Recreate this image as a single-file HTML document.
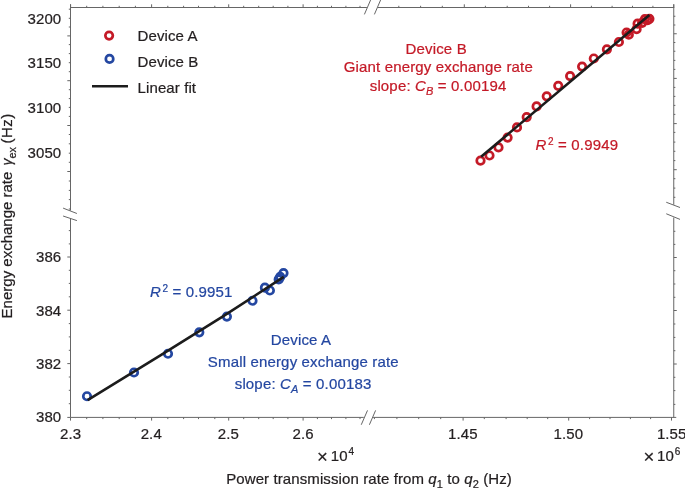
<!DOCTYPE html>
<html><head><meta charset="utf-8"><title>chart</title>
<style>
html,body{margin:0;padding:0;background:#fff;}
body{width:685px;height:488px;overflow:hidden;font-family:"Liberation Sans",sans-serif;}
svg{display:block;will-change:transform;transform:translateZ(0);}
</style></head><body>
<svg width="685" height="488" viewBox="0 0 685 488">
<rect width="685" height="488" fill="#ffffff"/>
<g stroke="#666666" stroke-width="1" fill="none" stroke-linecap="butt">
<path d="M70.5 7.5H366.9M377.5 7.5H674.25"/>
<path d="M70.5 417.4H363.75M373.1 417.4H676.25"/>
<path d="M70.5 4.3V210.6M70.5 218.5V417.4"/>
<path d="M673.75 4.3V204.75M673.75 217.5V417.4"/>
<path d="M364.4 14.4L370.6 0M374.4 14.4L380.6 0"/>
<path d="M361.25 424.75L367.5 410.4M369.4 424.75L375.6 410.4"/>
<path d="M63.1 208.1L76.9 213.5M63.1 216L76.9 220.6"/>
<path d="M666.25 202.25L680 207.5M666.25 213.75L680 219.4"/>
<path d="M70.5 417.4v3.2M151.6 417.4v3.2M228.7 417.4v3.2M303.1 417.4v3.2M463.1 417.4v3.2M568.7 417.4v3.2M671.5 417.4v3.2M86.7 417.4v1.7M102.9 417.4v1.7M119.2 417.4v1.7M135.4 417.4v1.7M167.8 417.4v1.7M183.6 417.4v1.7M198.5 417.4v1.7M214.8 417.4v1.7M243.7 417.4v1.7M258.7 417.4v1.7M273.2 417.4v1.7M287.9 417.4v1.7M317.4 417.4v1.7M331.5 417.4v1.7M345.9 417.4v1.7M360 417.4v1.7M374.4 417.4v1.7M396.9 417.4v1.7M418.7 417.4v1.7M440.7 417.4v1.7M484.3 417.4v1.7M506.1 417.4v1.7M527.2 417.4v1.7M547.7 417.4v1.7M589.6 417.4v1.7M610 417.4v1.7M630.4 417.4v1.7M650.6 417.4v1.7"/>
<path d="M70.6 7.5v-3.2M673.75 7.5v-3.2M151.6 7.5v-3.2M228.7 7.5v-3.2M303.1 7.5v-3.2M464.3 7.5v-3.2M570.6 7.5v-3.2M86.7 7.5v-1.7M102.9 7.5v-1.7M119.2 7.5v-1.7M135.4 7.5v-1.7M167.8 7.5v-1.7M183.6 7.5v-1.7M198.5 7.5v-1.7M214.8 7.5v-1.7M243.7 7.5v-1.7M258.7 7.5v-1.7M273.2 7.5v-1.7M287.9 7.5v-1.7M317.4 7.5v-1.7M331.5 7.5v-1.7M345.9 7.5v-1.7M360 7.5v-1.7M398.8 7.5v-1.7M420.6 7.5v-1.7M442.3 7.5v-1.7M485.4 7.5v-1.7M507.2 7.5v-1.7M528.5 7.5v-1.7M549.6 7.5v-1.7M591.4 7.5v-1.7M612.1 7.5v-1.7M632.5 7.5v-1.7M652.9 7.5v-1.7"/>
<path d="M70.5 35.9h-3.2M70.5 80.7h-3.2M70.5 125.5h-3.2M70.5 171.5h-3.2M70.5 257.0h-3.2M70.5 310.2h-3.2M70.5 363.6h-3.2M70.5 417.4h-3.2M70.5 9.2h-1.7M70.5 18.3h-1.7M70.5 27.0h-1.7M70.5 44.6h-1.7M70.5 53.6h-1.7M70.5 62.7h-1.7M70.5 71.7h-1.7M70.5 89.7h-1.7M70.5 98.6h-1.7M70.5 107.4h-1.7M70.5 116.4h-1.7M70.5 134.5h-1.7M70.5 143.8h-1.7M70.5 153.2h-1.7M70.5 162.3h-1.7M70.5 181h-1.7M70.5 190.4h-1.7M70.5 199.6h-1.7M70.5 209.0h-1.7M70.5 230.6h-1.7M70.5 243.9h-1.7M70.5 270.3h-1.7M70.5 283.4h-1.7M70.5 296.8h-1.7M70.5 323.6h-1.7M70.5 336.9h-1.7M70.5 350.3h-1.7M70.5 377h-1.7M70.5 390.3h-1.7M70.5 403.7h-1.7"/>
<path d="M673.75 33.75h3M673.75 78.4h3M673.75 123.6h3M673.75 169.7h3M673.75 257.5h3M673.75 310.5h3M673.75 364.0h3M673.75 16.25h1.6M673.75 25h1.6M673.75 42.5h1.6M673.75 51.25h1.6M673.75 60.4h1.6M673.75 69.4h1.6M673.75 87.4h1.6M673.75 96.4h1.6M673.75 105.4h1.6M673.75 114.4h1.6M673.75 132.4h1.6M673.75 142.1h1.6M673.75 151.3h1.6M673.75 160.6h1.6M673.75 178.7h1.6M673.75 188.1h1.6M673.75 197.3h1.6M673.75 231.3h1.6M673.75 244.4h1.6M673.75 270.7h1.6M673.75 284.0h1.6M673.75 297.3h1.6M673.75 324.0h1.6M673.75 337.4h1.6M673.75 350.7h1.6M673.75 377.3h1.6M673.75 390.6h1.6M673.75 404.4h1.6"/>
</g>
<g fill="none" stroke-width="2.7" stroke="#2447a1">
<circle cx="87" cy="396.25" r="3.75"/>
<circle cx="134" cy="372.5" r="3.75"/>
<circle cx="168" cy="353.75" r="3.75"/>
<circle cx="199.3" cy="332.3" r="3.75"/>
<circle cx="226.9" cy="316.6" r="3.75"/>
<circle cx="252.5" cy="300.75" r="3.75"/>
<circle cx="264.9" cy="287.7" r="3.75"/>
<circle cx="269.9" cy="290.5" r="3.75"/>
<circle cx="278.7" cy="279.4" r="3.75"/>
<circle cx="280.2" cy="276.8" r="3.75"/>
<circle cx="283.5" cy="273.1" r="3.75"/>
<circle cx="109.55" cy="58.95" r="3.75"/>
</g>
<g fill="none" stroke-width="2.7" stroke="#c41a27">
<circle cx="480.5" cy="160.7" r="3.75"/>
<circle cx="489.5" cy="155.5" r="3.75"/>
<circle cx="498.5" cy="147.4" r="3.75"/>
<circle cx="507.6" cy="137.6" r="3.75"/>
<circle cx="517" cy="127.4" r="3.75"/>
<circle cx="526.7" cy="117.1" r="3.75"/>
<circle cx="536.6" cy="106.4" r="3.75"/>
<circle cx="546.75" cy="96.3" r="3.75"/>
<circle cx="558.25" cy="85.8" r="3.75"/>
<circle cx="570.1" cy="76.1" r="3.75"/>
<circle cx="582.1" cy="66.6" r="3.75"/>
<circle cx="593.8" cy="58.5" r="3.75"/>
<circle cx="606.9" cy="49.3" r="3.75"/>
<circle cx="618.9" cy="42" r="3.75"/>
<circle cx="626.6" cy="32.5" r="3.75"/>
<circle cx="628.8" cy="34.7" r="3.75"/>
<circle cx="636.6" cy="29.2" r="3.75"/>
<circle cx="637.6" cy="23.7" r="3.75"/>
<circle cx="642.1" cy="22.8" r="3.75"/>
<circle cx="644.9" cy="19.2" r="3.75"/>
<circle cx="647.6" cy="20.1" r="3.75"/>
<circle cx="649.4" cy="18.8" r="3.75"/>
<circle cx="109.1" cy="35.6" r="3.75"/>
</g>
<g stroke="#1c1c1c" stroke-width="2.6" stroke-linecap="butt" fill="none">
<path d="M87.6 400.1L160 355.7L223.75 315.9L283.75 276.9" stroke-linejoin="round"/>
<path d="M481.1 156.8L649.4 15"/>
<path d="M92 86.25H128"/>
</g>
<g font-family="Liberation Sans, sans-serif" font-size="15" letter-spacing="0.1" fill="#231f20" stroke="#231f20" stroke-width="0.22">
<text x="61.3" y="23.8" text-anchor="end">3200</text>
<text x="61.3" y="68.2" text-anchor="end">3150</text>
<text x="61.3" y="112.9" text-anchor="end">3100</text>
<text x="61.3" y="158.0" text-anchor="end">3050</text>
<text x="61.3" y="262.4" text-anchor="end">386</text>
<text x="61.3" y="315.6" text-anchor="end">384</text>
<text x="61.3" y="369.0" text-anchor="end">382</text>
<text x="61.3" y="422.3" text-anchor="end">380</text>
<text x="70.6" y="438.5" text-anchor="middle">2.3</text>
<text x="151.25" y="438.5" text-anchor="middle">2.4</text>
<text x="228.3" y="438.5" text-anchor="middle">2.5</text>
<text x="303.1" y="438.5" text-anchor="middle">2.6</text>
<text x="462.9" y="438.5" text-anchor="middle">1.45</text>
<text x="568.4" y="438.5" text-anchor="middle">1.50</text>
<text x="671.7" y="438.5" text-anchor="middle">1.55</text>
<text x="322.5" y="462.6" font-size="18.5" text-anchor="middle">×</text><text x="330.7" y="461.0">10<tspan font-size="10" dy="-5.6" dx="0.8">4</tspan></text>
<text x="648.9" y="462.6" font-size="18.5" text-anchor="middle">×</text><text x="657.1" y="461.0">10<tspan font-size="10" dy="-5.6" dx="0.8">6</tspan></text>
<text x="226.2" y="483.7">Power transmission rate from <tspan font-style="italic">q</tspan><tspan font-size="11" dy="4.2">1</tspan><tspan dy="-4.2"> to </tspan><tspan font-style="italic">q</tspan><tspan font-size="11" dy="4.2">2</tspan><tspan dy="-4.2"> (Hz)</tspan></text>
<g letter-spacing="0">
<text transform="translate(11.6 318.4) rotate(-90)">Energy exchange rate</text>
<text transform="translate(11.6 165.6) rotate(-90)" font-style="italic" font-size="14">γ</text>
<text transform="translate(15.8 158.6) rotate(-90)" font-size="11">ex</text>
<text transform="translate(11.6 143.6) rotate(-90)" letter-spacing="0.5">(Hz)</text>
</g>
<text x="137.6" y="41.3">Device A</text>
<text x="137.6" y="67.0">Device B</text>
<text x="137.6" y="92.6">Linear fit</text>
</g>
<g font-family="Liberation Sans, sans-serif" font-size="15" letter-spacing="0.16" fill="#c41a27" stroke="#c41a27" stroke-width="0.22" text-anchor="middle">
<text x="436.2" y="54">Device B</text>
<text x="438.3" y="72.3">Giant energy exchange rate</text>
<text x="438.1" y="90.8">slope: <tspan font-style="italic">C</tspan><tspan font-style="italic" font-size="11" dy="4.2">B</tspan><tspan dy="-4.2"> = 0.00194</tspan></text>
<text x="535.6" y="150.2" text-anchor="start"><tspan font-style="italic">R</tspan><tspan font-size="10" dy="-5.6" dx="1.4">2</tspan><tspan dy="5.6"> = 0.9949</tspan></text>
</g>
<g font-family="Liberation Sans, sans-serif" font-size="15" letter-spacing="0.16" fill="#2447a1" stroke="#2447a1" stroke-width="0.22" text-anchor="middle">
<text x="301" y="345.4">Device A</text>
<text x="303.3" y="367.3">Small energy exchange rate</text>
<text x="303.1" y="388.8">slope: <tspan font-style="italic">C</tspan><tspan font-style="italic" font-size="11" dy="4.2">A</tspan><tspan dy="-4.2"> = 0.00183</tspan></text>
<text x="150" y="297.3" text-anchor="start"><tspan font-style="italic">R</tspan><tspan font-size="10" dy="-5.6" dx="1.4">2</tspan><tspan dy="5.6"> = 0.9951</tspan></text>
</g>
</svg>
</body></html>
